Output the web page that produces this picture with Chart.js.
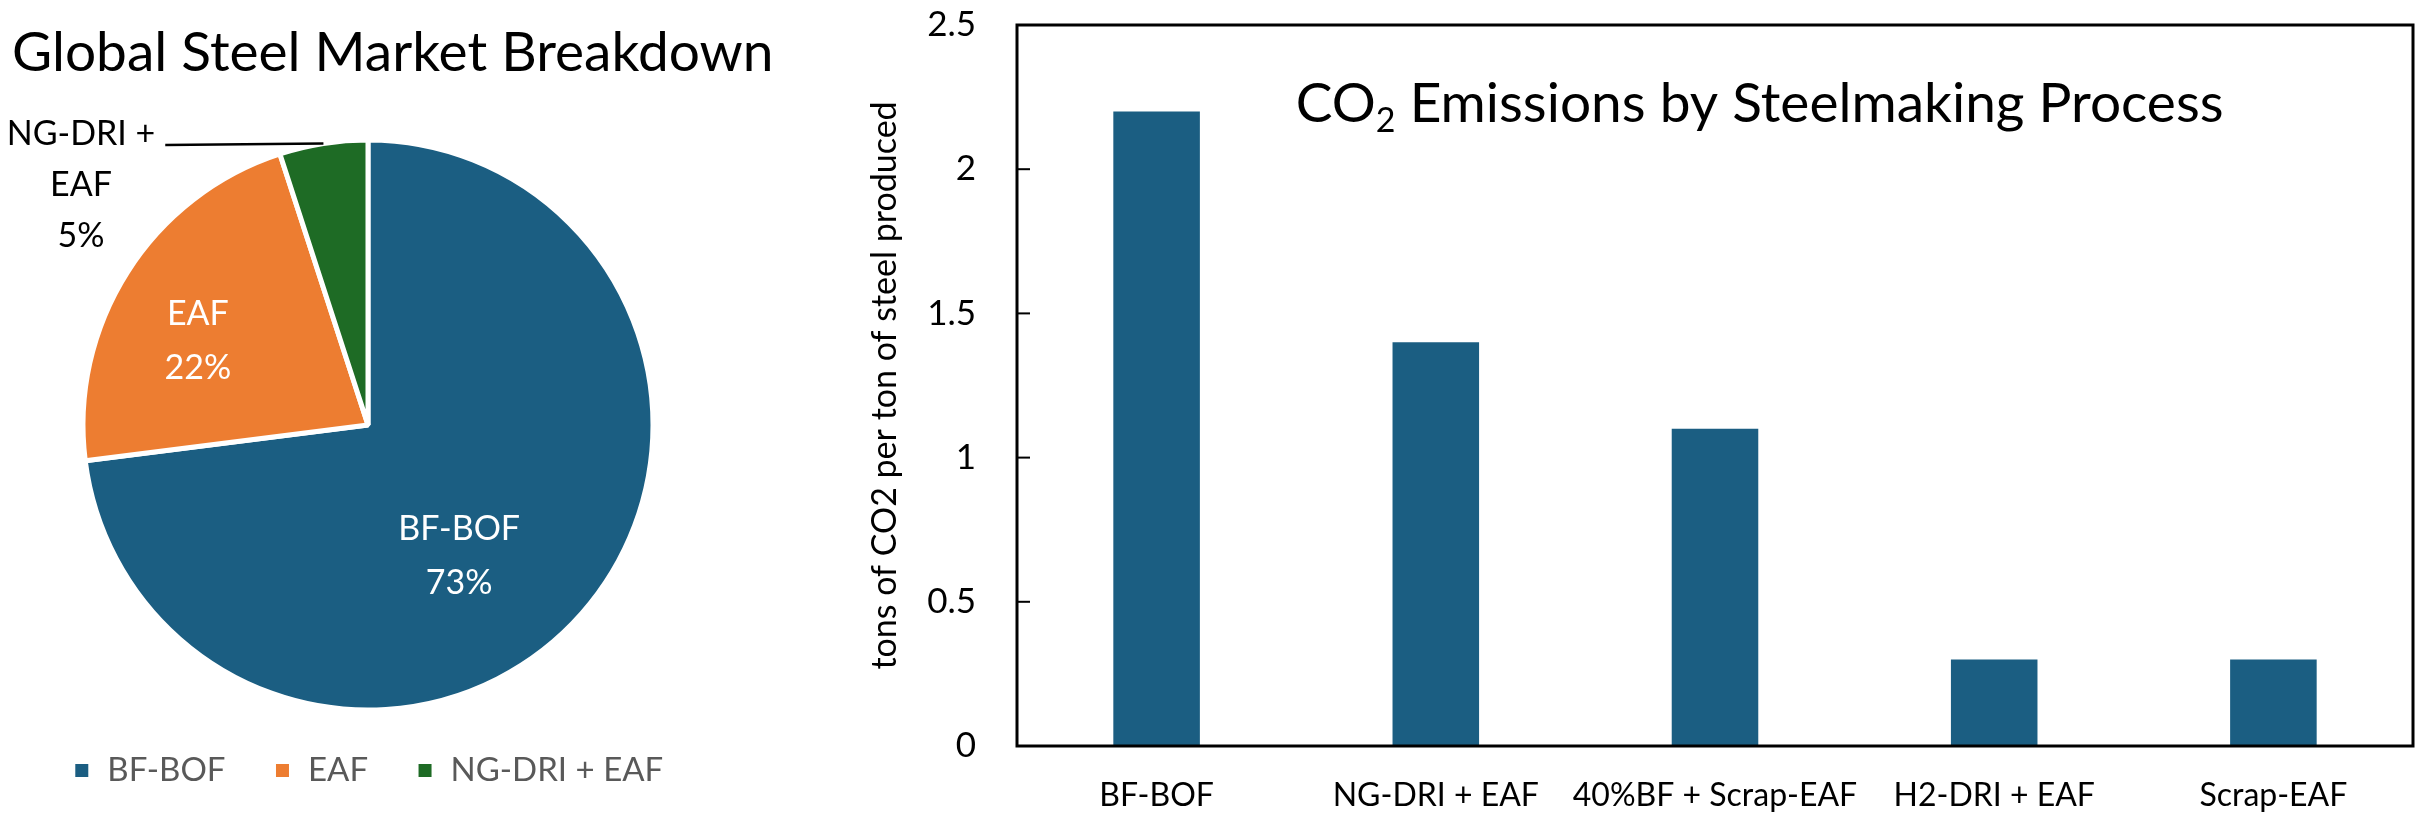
<!DOCTYPE html>
<html>
<head>
<meta charset="utf-8">
<script src="https://cdn.jsdelivr.net/npm/chart.js@4"></script>
<style>
  body { margin: 0; background: #fff; }
  #pieChart { position: absolute; left: 0; top: 0; }
  #barChart { position: absolute; left: 830px; top: 0; }
</style>
</head>
<body>
<canvas id="pieChart" width="800" height="827"></canvas>
<canvas id="barChart" width="1594" height="827"></canvas>
<script>
// Market share (pie)
const marketLabels = ["BF-BOF", "EAF", "NG-DRI + EAF"]
const marketShare = [73, 22, 5]
const marketColors = ["#1B5E82", "#ED7D31", "#1E6B25"]

// CO2 per ton of steel (bars)
const processLabels = ["BF-BOF", "NG-DRI + EAF", "40%BF + Scrap-EAF", "H2-DRI + EAF", "Scrap-EAF"]
const processCO2 = [2.2, 1.4, 1.1, 0.3, 0.3]
const yTicks = [0, 0.5, 1, 1.5, 2, 2.5]

const FONT = "Lato, 'Open Sans', sans-serif"
Chart.defaults.font.family = FONT
Chart.defaults.color = "#000"

// Pie title drawn by hand so it is not squeezed into the chart width
const pieTitle = {
  id: "pieTitle",
  afterDraw(chart) {
    const { ctx } = chart
    ctx.save()
    ctx.font = `55px ${FONT}`
    ctx.fillStyle = "#000"
    ctx.textAlign = "left"
    ctx.textBaseline = "middle"
    ctx.fillText("Global Steel Market Breakdown", 12, 53)
    ctx.restore()
  },
}

// Labels on the pie: the two big slices inside, the small one outside with a leader line
const pieLabels = {
  id: "pieLabels",
  afterDatasetsDraw(chart) {
    const { ctx } = chart
    const arcs = chart.getDatasetMeta(0).data
    const radial = [0.56, 0.666]        // distance from centre, share of radius
    const nudge = [0.24, -0.106]        // angle shift in radians (Excel best fit)
    ctx.save()
    ctx.font = `34px ${FONT}`
    ctx.textAlign = "center"
    ctx.textBaseline = "middle"
    arcs.forEach((arc, i) => {
      const { x, y, startAngle, endAngle, outerRadius } = arc.getProps(["x", "y", "startAngle", "endAngle", "outerRadius"], true)
      const mid = (startAngle + endAngle) / 2
      if (marketShare[i] >= 10) {
        const a = mid + nudge[i]
        const r = outerRadius * radial[i]
        const lx = x + Math.cos(a) * r
        const ly = y + Math.sin(a) * r
        ctx.fillStyle = "#fff"
        ctx.fillText(marketLabels[i], lx, ly - 27)
        ctx.fillText(marketShare[i] + "%", lx, ly + 27)
      } else {
        // outside label at the top left of the pie
        const parts = ["NG-DRI +", "EAF", marketShare[i] + "%"]
        const lx = x - outerRadius - 2
        const ly = y - outerRadius - 6
        ctx.fillStyle = "#000"
        parts.forEach((t, k) => ctx.fillText(t, lx, ly + k * 51))
        const w = ctx.measureText(parts[0]).width
        ctx.strokeStyle = "#000"
        ctx.lineWidth = 2.5
        ctx.beginPath()
        ctx.moveTo(lx + w / 2 + 10, ly + 11)
        ctx.lineTo(x + Math.cos(mid) * outerRadius, y + Math.sin(mid) * outerRadius)
        ctx.stroke()
      }
    })
    ctx.restore()
  },
}

new Chart(document.getElementById("pieChart"), {
  type: "pie",
  data: {
    labels: marketLabels,
    datasets: [{
      data: marketShare,
      backgroundColor: marketColors,
      borderColor: "#fff",
      borderWidth: 5,
      radius: 285,
    }],
  },
  options: {
    responsive: false,
    animation: false,
    layout: { padding: { top: 144, left: 12, right: 76, bottom: 30 } },
    plugins: {
      legend: {
        position: "bottom",
        labels: { color: "#595959", font: { size: 33 }, boxWidth: 18, boxHeight: 18, padding: 48 },
      },
      tooltip: { enabled: false },
    },
  },
  plugins: [pieLabels, pieTitle],
})

// Box round the plot, inward y ticks and the inner title
const plotFrame = {
  id: "plotFrame",
  afterDatasetsDraw(chart) {
    const { ctx, chartArea: a, scales: { y } } = chart
    ctx.save()
    ctx.strokeStyle = "#000"
    ctx.lineWidth = 2
    y.ticks.forEach((t) => {
      const py = y.getPixelForValue(t.value)
      ctx.beginPath()
      ctx.moveTo(a.left, py)
      ctx.lineTo(a.left + 13, py)
      ctx.stroke()
    })
    ctx.lineWidth = 3
    ctx.strokeRect(a.left, a.top, a.right - a.left, a.bottom - a.top)

    // CO2 title with a subscript
    const big = `55px ${FONT}`
    const small = `34px ${FONT}`
    const head = "CO", sub = "2", tail = " Emissions by Steelmaking Process"
    ctx.font = big
    const w1 = ctx.measureText(head).width
    const w3 = ctx.measureText(tail).width
    ctx.font = small
    const w2 = ctx.measureText(sub).width
    const cx = a.left + (a.right - a.left) * 0.532
    const cy = 104
    let x = cx - (w1 + w2 + w3) / 2
    ctx.fillStyle = "#000"
    ctx.textBaseline = "middle"
    ctx.textAlign = "left"
    ctx.font = big
    ctx.fillText(head, x, cy)
    x += w1
    ctx.font = small
    ctx.fillText(sub, x, cy + 17)
    x += w2
    ctx.font = big
    ctx.fillText(tail, x, cy)
    ctx.restore()
  },
}

new Chart(document.getElementById("barChart"), {
  type: "bar",
  data: {
    labels: processLabels,
    datasets: [{
      data: processCO2,
      backgroundColor: "#1B5E82",
      categoryPercentage: 1,
      barPercentage: 0.31,
    }],
  },
  options: {
    responsive: false,
    animation: false,
    layout: { autoPadding: false, padding: { top: 25, right: 11 } },
    plugins: { legend: { display: false }, tooltip: { enabled: false } },
    scales: {
      x: {
        grid: { display: false, drawTicks: false },
        border: { display: false },
        ticks: { color: "#000", font: { size: 32 }, padding: 30, maxRotation: 0, autoSkip: false },
        afterFit: (s) => {
          s.height = 81
          s.paddingLeft = 0
          s.paddingRight = 0
        },
      },
      y: {
        min: yTicks[0],
        max: yTicks[yTicks.length - 1],
        afterBuildTicks: (s) => { s.ticks = yTicks.map((v) => ({ value: v })) },
        grid: { display: false, drawTicks: false },
        border: { display: false },
        ticks: { color: "#000", font: { size: 35 }, padding: 41, callback: (v) => String(v) },
        title: {
          display: true,
          text: "tons of CO2 per ton of steel produced",
          color: "#000",
          font: { size: 34 },
          padding: { top: 35, bottom: 0 },
        },
        afterFit: (s) => {
          s.width = 187
          s.paddingTop = 0
          s.paddingBottom = 0
        },
      },
    },
  },
  plugins: [plotFrame],
})
</script>
</body>
</html>
